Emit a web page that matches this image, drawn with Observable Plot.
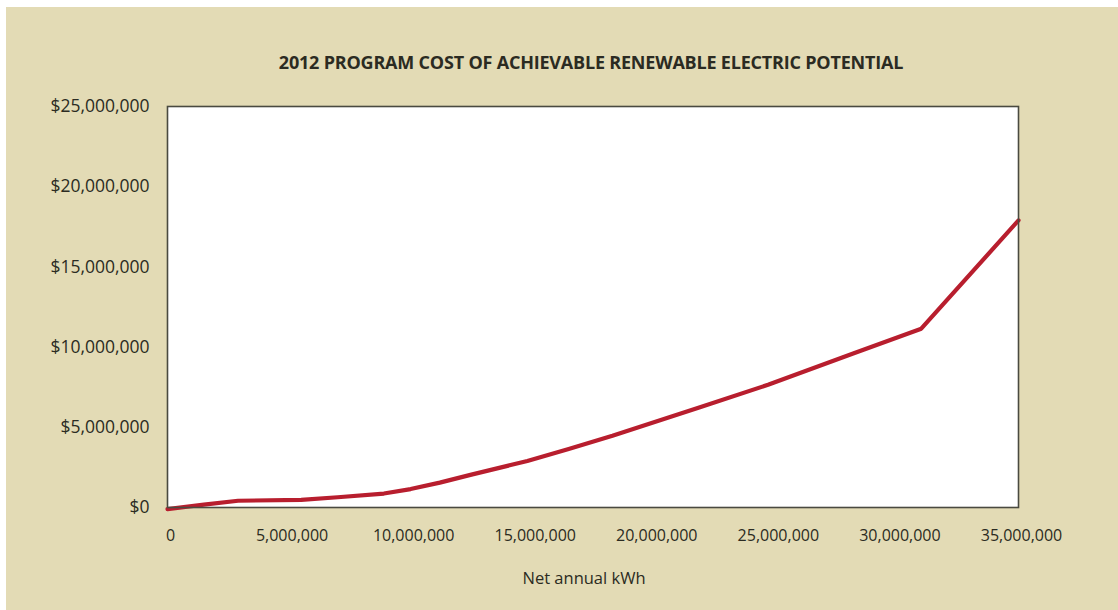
<!DOCTYPE html>
<html>
<head>
<meta charset="utf-8">
<script src="https://cdn.jsdelivr.net/npm/d3@7"></script>
<script src="https://cdn.jsdelivr.net/npm/@observablehq/plot@0.6"></script>
<style>
  html, body { margin: 0; padding: 0; background: #ffffff; width: 1118px; height: 610px; overflow: hidden; }
  #bg { position: absolute; left: 6px; top: 7px; width: 1112px; height: 603px; background: #e3dbb5; }
  #title { position: absolute; left: 0; width: 1182px; top: 50px; text-align: center;
           font-family: "Open Sans", sans-serif; font-weight: 700; font-size: 18px; color: #2b2b22; letter-spacing: -0.2px; }
  #chart { position: absolute; left: 0; top: 0; }
</style>
</head>
<body>
<div id="bg"></div>
<div id="chart"></div>
<div id="title">2012 PROGRAM COST OF ACHIEVABLE RENEWABLE ELECTRIC POTENTIAL</div>
<script>
const netAnnualKWh = [0, 1500000, 2900000, 5500000, 7000000, 8900000, 10000000, 11200000, 12500000, 14800000, 16500000, 18300000, 21900000, 24700000, 28200000, 31000000, 35000000];
const programCost  = [-100000, 180000, 420000, 480000, 640000, 870000, 1150000, 1550000, 2050000, 2900000, 3650000, 4470000, 6250000, 7650000, 9600000, 11150000, 17900000];
const xTicks = [0, 5000000, 10000000, 15000000, 20000000, 25000000, 30000000, 35000000];
const yTicks = [0, 5000000, 10000000, 15000000, 20000000, 25000000];
const xLabel = "Net annual kWh";

const data = netAnnualKWh.map((x, i) => ({x, y: programCost[i]}));
const fmt = d3.format(",");

const plot = Plot.plot({
  width: 1118,
  height: 610,
  marginLeft: 167,
  marginRight: 100,
  marginTop: 106,
  marginBottom: 103,
  style: { background: "transparent", fontFamily: "'Open Sans', sans-serif", color: "#2b2b22" },
  x: { domain: [0, 35000000] },
  y: { domain: [0, 25000000] },
  marks: [
    Plot.frame({ fill: "white", stroke: "none" }),
    Plot.line(data, { x: "x", y: "y", stroke: "#b81e2e", strokeWidth: 4.2, curve: "linear", strokeLinejoin: "round", clip: false }),
    Plot.frame({ stroke: "#4a4a40", strokeWidth: 1.6 }),
    Plot.axisX({ ticks: xTicks, tickSize: 0, tickPadding: 22, tickFormat: d => fmt(d), fontSize: 16, dx: 3,
                 label: null }),
    Plot.text([xLabel], { frameAnchor: "bottom", dx: -9, dy: 76, fontSize: 16.5, fill: "#2b2b22" }),
    Plot.axisY({ ticks: yTicks, tickSize: 0, tickPadding: 18, tickFormat: d => "$" + fmt(d), fontSize: 17.5, label: null })
  ]
});
document.getElementById("chart").appendChild(plot);
</script>
</body>
</html>
